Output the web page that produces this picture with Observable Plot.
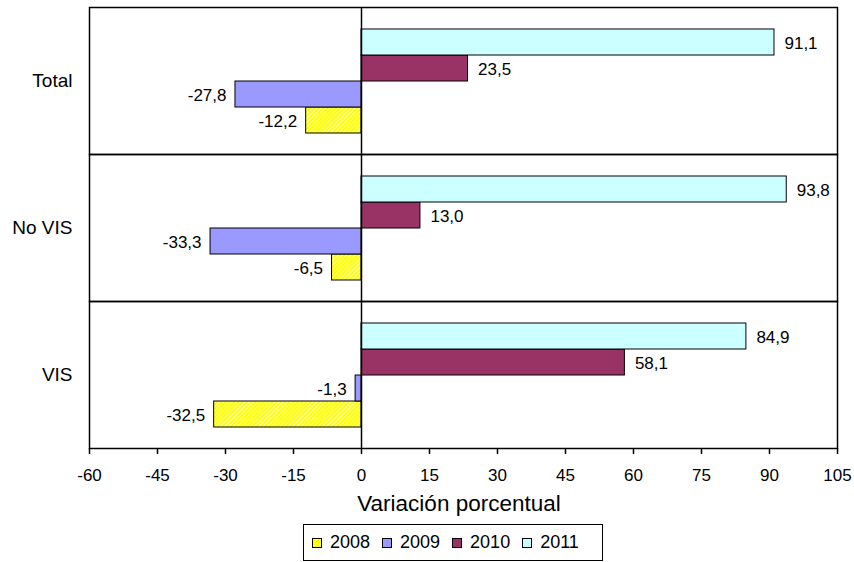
<!DOCTYPE html>
<html>
<head>
<meta charset="utf-8">
<script src="https://cdn.jsdelivr.net/npm/d3@7"></script>
<script src="https://cdn.jsdelivr.net/npm/@observablehq/plot@0.6"></script>
<style>
  html, body { margin: 0; padding: 0; background: #fff; }
  #wrap { position: relative; width: 854px; height: 562px; font-family: "Liberation Sans", Arial, sans-serif; color: #000; }
  #chart { position: absolute; left: 0; top: 0; }
  #xtitle { position: absolute; left: 0; width: 918px; top: 491px; text-align: center; font-size: 22.5px; line-height: 26px; }
  #legend { position: absolute; left: 303px; top: 524px; width: 290px; height: 35px; border: 1px solid #000;
            display: flex; align-items: center; padding-left: 8px; box-sizing: content-box; font-size: 18px; }
  .item { display: flex; align-items: center; margin-right: 12px; }
  .sw { width: 8px; height: 8px; border: 1px solid #000; margin-right: 8px; }
</style>
</head>
<body>
<div id="wrap">
  <div id="chart"></div>
  <div id="xtitle">Variación porcentual</div>
  <div id="legend"></div>
</div>
<script>
const categories = ["Total", "No VIS", "VIS"];
const years = ["2008", "2009", "2010", "2011"];
const v2008 = [-12.2, -6.5, -32.5];
const v2009 = [-27.8, -33.3, -1.3];
const v2010 = [23.5, 13.0, 58.1];
const v2011 = [91.1, 93.8, 84.9];
const xTicks = [-60, -45, -30, -15, 0, 15, 30, 45, 60, 75, 90, 105];
const colors = ["url(#hatch2008)", "#9999FF", "#993366", "#CCFFFF"];

const series = [v2008, v2009, v2010, v2011];
const data = categories.flatMap((c, i) => years.map((y, j) => ({category: c, year: y, value: series[j][i]})));
const fmt = v => v.toFixed(1).replace(".", ",");

const plot = Plot.plot({
  width: 854,
  height: 490,
  marginLeft: 89,
  marginRight: 17,
  marginTop: 7,
  marginBottom: 42,
  style: {fontFamily: "Liberation Sans, Arial, sans-serif", fontSize: "17px", color: "#000", background: "#fff"},
  x: {domain: [-60, 105], axis: null},
  y: {domain: ["2011", "2010", "2009", "2008"], paddingInner: 0, paddingOuter: 0.75, axis: null},
  fy: {domain: categories, padding: 0, axis: null},
  color: {domain: years, range: colors, type: "ordinal"},
  marks: [
    Plot.barX(data, {x: "value", y: "year", fy: "category", fill: "year", stroke: "#000", strokeWidth: 1}),
    Plot.ruleX([0], {stroke: "#000", strokeWidth: 1.5}),
    Plot.frame({stroke: "#000", strokeWidth: 1.5}),
    Plot.text(data.filter(d => d.value >= 0), {x: "value", y: "year", fy: "category", text: d => fmt(d.value),
      textAnchor: "start", dx: 10, dy: 1, fontSize: 17}),
    Plot.text(data.filter(d => d.value < 0), {x: "value", y: "year", fy: "category", text: d => fmt(d.value),
      textAnchor: "end", dx: -9, dy: 1, fontSize: 17}),
    Plot.axisX({ticks: xTicks, tickFormat: d => String(d), tickSize: 6, tickPadding: 14, label: null,
      facetAnchor: "bottom", fontSize: 17, strokeWidth: 1.5}),
    Plot.axisFy({anchor: "left", tickSize: 0, tickPadding: 17, label: null, fontSize: 19})
  ]
});

// hatch pattern for 2008
const svgNS = "http://www.w3.org/2000/svg";
const defs = document.createElementNS(svgNS, "defs");
defs.innerHTML = `<pattern id="hatch2008" patternUnits="userSpaceOnUse" width="3" height="3" patternTransform="rotate(45)">
  <rect width="3" height="3" fill="#FFFF00"></rect>
  <rect width="1" height="3" fill="#FFFFB0"></rect>
</pattern>`;
plot.insertBefore(defs, plot.firstChild);
document.getElementById("chart").appendChild(plot);

// legend
const legendFills = ["repeating-linear-gradient(-45deg, #FFFF00 0 2px, #FFFFB0 2px 3px)", "#9999FF", "#993366", "#CCFFFF"];
const legend = document.getElementById("legend");
years.forEach((y, i) => {
  const item = document.createElement("div");
  item.className = "item";
  const sw = document.createElement("div");
  sw.className = "sw";
  sw.style.background = legendFills[i];
  const t = document.createElement("span");
  t.textContent = y;
  item.appendChild(sw);
  item.appendChild(t);
  legend.appendChild(item);
});
</script>
</body>
</html>
